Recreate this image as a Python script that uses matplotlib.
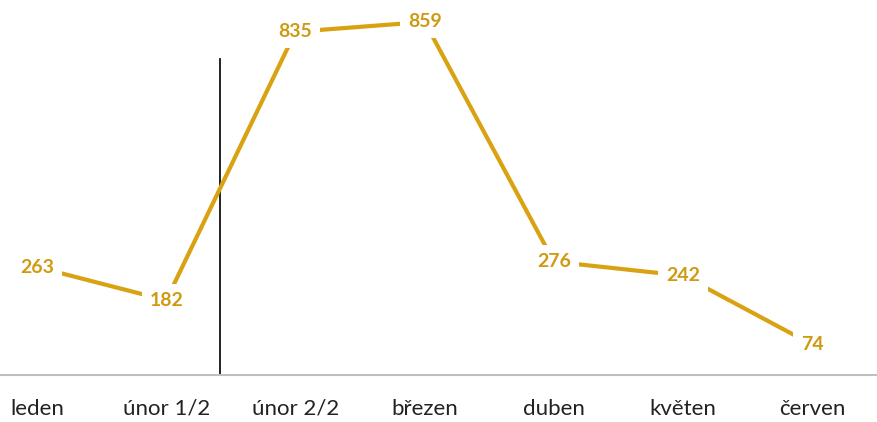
import matplotlib.pyplot as plt

# data
mesice = ['leden', 'únor 1/2', 'únor 2/2', 'březen', 'duben', 'květen', 'červen']
hodnoty = [263, 182, 835, 859, 276, 242, 74]

barva = '#D9A212'

fig = plt.figure(figsize=(8.77, 4.22), dpi=100)
ax = fig.add_axes([0, 0.111, 1, 0.877])

x = list(range(len(mesice)))
ax.plot(x, hodnoty, color=barva, lw=3, solid_capstyle='butt', zorder=2)

for xi, v in zip(x, hodnoty):
    ax.text(xi, v, str(v), ha='center', va='center', fontsize=14,
            color='#CF9A10', fontweight='bold', family='Lato', zorder=3,
            bbox=dict(boxstyle='square,pad=0.4', fc='white', ec='none'))

# svisla cara mezi unor 1/2 a unor 2/2
ax.plot([1.42, 1.42], [0, 768], color='#111111', lw=1.3, zorder=1)

ax.set_xlim(-0.286, 6.5)
ax.set_ylim(0, 900)
ax.set_yticks([])
ax.set_xticks(x)
ax.set_xticklabels(mesice, fontsize=16, family='Lato', color='#222222')
ax.tick_params(axis='x', length=0, pad=17)
for s in ['top', 'left', 'right']:
    ax.spines[s].set_visible(False)
ax.spines['bottom'].set_color('#BFBFBF')
ax.spines['bottom'].set_linewidth(1.5)

fig.savefig('out.png', dpi=100)
